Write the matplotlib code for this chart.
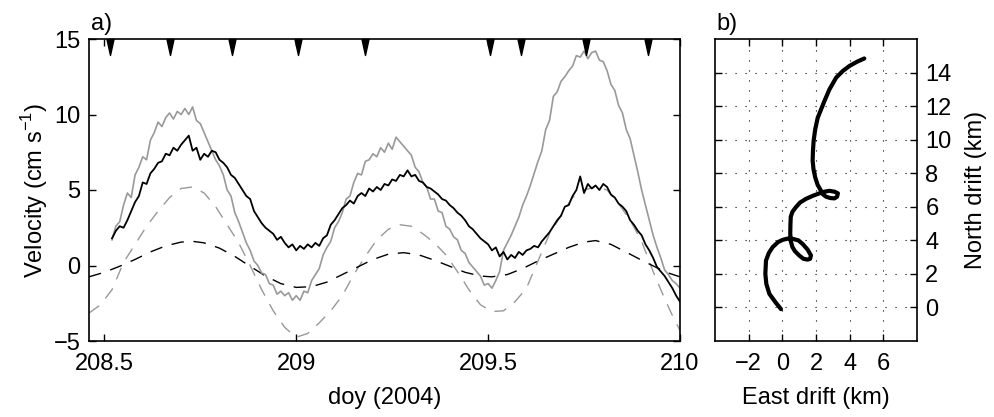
import numpy as np
import matplotlib
matplotlib.use('Agg')
import matplotlib.pyplot as plt

plt.rcParams['font.family'] = ['Liberation Sans', 'DejaVu Sans']

# --- a) velocity time series (doy, cm/s) ---
doy_obs = [208.52, 208.53, 208.54, 208.55, 208.56, 208.57, 208.58, 208.59, 208.60, 208.61,
           208.62, 208.63, 208.64, 208.65, 208.66, 208.67, 208.68, 208.69, 208.70, 208.71,
           208.72, 208.73, 208.74, 208.75, 208.76, 208.77, 208.78, 208.79, 208.80, 208.81,
           208.82, 208.83, 208.84, 208.85, 208.86, 208.87, 208.88, 208.89, 208.90, 208.91,
           208.92, 208.93, 208.94, 208.95, 208.96, 208.97, 208.98, 208.99, 209.00, 209.01,
           209.02, 209.03, 209.04, 209.05, 209.06, 209.07, 209.08, 209.09, 209.10, 209.11,
           209.12, 209.13, 209.14, 209.15, 209.16, 209.17, 209.18, 209.19, 209.20, 209.21,
           209.22, 209.23, 209.24, 209.25, 209.26, 209.27, 209.28, 209.29, 209.30, 209.31,
           209.32, 209.33, 209.34, 209.35, 209.36, 209.37, 209.38, 209.39, 209.40, 209.41,
           209.42, 209.43, 209.44, 209.45, 209.46, 209.47, 209.48, 209.49, 209.50, 209.51,
           209.52, 209.53, 209.54, 209.55, 209.56, 209.57, 209.58, 209.59, 209.60, 209.61,
           209.62, 209.63, 209.64, 209.65, 209.66, 209.67, 209.68, 209.69, 209.70, 209.71,
           209.72, 209.73, 209.74, 209.75, 209.76, 209.77, 209.78, 209.79, 209.80, 209.81,
           209.82, 209.83, 209.84, 209.85, 209.86, 209.87, 209.88, 209.89, 209.90, 209.91,
           209.92, 209.93, 209.94, 209.95, 209.96, 209.97, 209.98, 209.99, 210.00]

speed_gray = [1.7, 2.6, 2.9, 4.0, 4.8, 4.5, 6.0, 6.5, 7.2, 7.0,
              8.3, 8.8, 9.5, 9.2, 9.8, 10.1, 9.7, 10.2, 10.0, 10.4,
              10.0, 10.5, 9.6, 9.4, 8.8, 8.2, 7.6, 7.0, 6.6, 6.0,
              5.0, 4.6, 3.5, 2.9, 2.2, 1.5, 1.0, 0.3, 0.0, -0.5,
              -0.6, -1.2, -1.3, -1.9, -1.7, -2.0, -1.8, -2.3, -2.0, -2.3,
              -1.7, -1.8, -1.0, -0.6, -0.2, 0.7, 1.2, 1.6, 2.5, 2.9,
              3.5, 4.4, 4.6, 5.5, 6.1, 6.0, 6.9, 7.0, 7.4, 7.2,
              7.8, 7.5, 8.1, 7.7, 8.5, 8.2, 7.9, 7.6, 7.3, 6.5,
              6.2, 5.5, 5.2, 4.4, 4.4, 3.6, 3.5, 2.6, 2.4, 1.9,
              1.7, 1.0, 0.8, 0.2, -0.1, -0.4, -0.7, -1.3, -1.2, -1.5,
              -1.0, -0.4, 1.0, 1.5, 2.0, 2.6, 3.2, 4.0, 4.6, 5.3,
              6.1, 6.9, 7.6, 9.0, 9.6, 11.2, 11.5, 12.2, 12.5, 12.9,
              13.2, 13.9, 13.8, 14.2, 13.7, 14.1, 14.2, 13.6, 13.5, 12.9,
              12.0, 11.6, 10.6, 10.1, 9.0, 8.4, 7.3, 6.2, 5.0, 4.0,
              3.0, 2.0, 1.2, 0.5, -0.3, -0.6, -1.0, -1.2, -1.5]

speed_black = [1.8, 2.3, 2.6, 2.5, 3.0, 3.6, 4.2, 4.6, 5.5, 5.4,
               6.1, 6.4, 6.8, 6.9, 7.4, 7.3, 7.8, 7.6, 8.0, 8.3,
               8.6, 7.6, 7.8, 7.0, 7.4, 7.2, 7.6, 7.5, 7.0, 6.8,
               6.5, 6.0, 5.8, 5.4, 5.0, 4.6, 4.4, 3.6, 3.2, 2.8,
               2.5, 2.3, 2.1, 1.7, 1.9, 1.5, 1.2, 1.4, 1.0, 1.3,
               1.1, 1.4, 1.2, 1.5, 1.3, 1.8, 2.0, 2.7, 3.0, 3.4,
               3.8, 4.0, 4.3, 4.1, 4.6, 4.8, 4.6, 5.1, 4.9, 5.2,
               5.0, 5.4, 5.3, 5.7, 5.6, 6.0, 5.9, 6.3, 5.9, 6.0,
               5.6, 5.5, 5.2, 5.1, 4.9, 4.7, 4.4, 4.3, 4.0, 3.8,
               3.5, 3.3, 3.0, 2.6, 2.4, 2.1, 1.8, 1.6, 1.4, 1.0,
               1.2, 0.6, 0.9, 0.4, 0.7, 0.5, 0.9, 0.7, 1.0, 1.1,
               1.3, 1.2, 1.6, 1.9, 2.2, 2.6, 3.0, 3.3, 3.9, 4.0,
               4.6, 5.0, 5.9, 4.8, 5.4, 5.1, 5.3, 5.0, 5.4, 5.2,
               4.7, 4.5, 4.1, 3.9, 3.6, 3.0, 2.7, 2.3, 2.0, 1.4,
               1.0, 0.5, -0.1, -0.4, -0.7, -1.1, -1.5, -2.0, -2.4]

doy_fit_gray = [208.46, 208.49, 208.52, 208.55, 208.58, 208.61, 208.64, 208.67, 208.70, 208.73,
                208.76, 208.79, 208.82, 208.85, 208.88, 208.91, 208.94, 208.97, 209.00, 209.03,
                209.06, 209.09, 209.12, 209.15, 209.18, 209.21, 209.24, 209.27, 209.30, 209.33,
                209.36, 209.39, 209.42, 209.45, 209.48, 209.51, 209.54, 209.57, 209.60, 209.63,
                209.66, 209.69, 209.72, 209.75, 209.78, 209.81, 209.84, 209.87, 209.90, 209.93,
                209.96, 209.98, 210.00]
fit_gray = [-3.15, -2.6, -1.6, 0.2, 1.4, 2.6, 3.6, 4.5, 5.1, 5.2,
            4.8, 3.9, 2.7, 1.5, 0.0, -1.6, -3.0, -4.1, -4.75, -4.5,
            -3.8, -3.0, -2.0, -0.6, 0.6, 1.7, 2.4, 2.7, 2.6, 2.1,
            1.5, 0.7, -0.4, -1.6, -2.6, -3.05, -3.0, -2.4, -1.5, 0.3,
            2.1, 3.3, 4.5, 5.0, 5.2, 5.0, 4.1, 3.0, 1.6, -0.4,
            -2.2, -3.3, -4.3]

doy_fit_black = [208.46, 208.50, 208.54, 208.58, 208.62, 208.66, 208.70, 208.73, 208.76, 208.80,
                 208.84, 208.88, 208.92, 208.96, 209.00, 209.04, 209.08, 209.12, 209.16, 209.20,
                 209.24, 209.28, 209.32, 209.36, 209.40, 209.44, 209.48, 209.51, 209.55, 209.59,
                 209.63, 209.67, 209.71, 209.75, 209.78, 209.82, 209.87, 209.90, 209.94, 209.97,
                 210.00]
fit_black = [-0.75, -0.45, -0.05, 0.4, 0.9, 1.3, 1.55, 1.6, 1.5, 1.15,
             0.6, -0.05, -0.7, -1.2, -1.45, -1.4, -1.1, -0.6, -0.1, 0.4,
             0.75, 0.85, 0.7, 0.35, -0.05, -0.45, -0.7, -0.75, -0.6, -0.2,
             0.3, 0.75, 1.2, 1.55, 1.65, 1.4, 0.75, 0.35, -0.15, -0.5,
             -0.75]

# sampling times (triangles at top)
doy_samples = [208.516, 208.670, 208.833, 209.005, 209.180, 209.504, 209.586, 209.756, 209.917]

# --- b) progressive vector diagram (km) ---
east_km = [-0.08, -0.4, -0.77, -0.95, -1.01, -0.97, -0.8, -0.57, -0.25, 0.02,
           0.3, 0.61, 0.95, 1.2, 1.5, 1.7, 1.65, 1.5, 1.25, 1.0,
           0.75, 0.6, 0.5, 0.47, 0.48, 0.5, 0.6, 0.8, 1.05, 1.4,
           1.8, 2.2, 2.5, 2.8, 3.1, 3.3, 3.25, 3.1, 2.85, 2.6,
           2.4, 2.3, 2.1, 1.95, 1.85, 1.8, 1.82, 1.86, 1.95, 2.1,
           2.3, 2.5, 2.8, 3.2, 3.6, 4.0, 4.45, 4.87]
north_km = [-0.1, 0.3, 0.81, 1.4, 2.0, 2.8, 3.25, 3.6, 3.9, 4.03,
            4.1, 4.09, 4.0, 3.79, 3.45, 3.1, 2.9, 2.85, 2.9, 3.1,
            3.35, 3.6, 3.95, 4.4, 4.9, 5.4, 5.7, 5.97, 6.25, 6.47,
            6.65, 6.8, 6.9, 6.95, 6.9, 6.8, 6.6, 6.5, 6.52, 6.6,
            6.75, 6.95, 7.3, 7.76, 8.25, 8.75, 9.35, 9.94, 10.6, 11.3,
            11.8, 12.3, 13.0, 13.7, 14.1, 14.4, 14.65, 14.84]

fs = 17
W, H = 995, 417
fig = plt.figure(figsize=(W / 100, H / 100), dpi=100)

ax1 = fig.add_axes([89 / W, 1 - 341 / H, 591 / W, 302 / H])
ax2 = fig.add_axes([715 / W, 1 - 341 / H, 202 / W, 302 / H])

gray = '#999999'
ax1.plot(doy_fit_gray, fit_gray, color=gray, lw=1.0, dashes=(9, 7))
ax1.plot(doy_fit_black, fit_black, color='k', lw=1.0, dashes=(9, 7))
ax1.plot(doy_obs, speed_gray, color=gray, lw=1.2)
ax1.plot(doy_obs, speed_black, color='k', lw=1.3)

tri = matplotlib.path.Path([(-0.22, 0), (0.22, 0), (0, -1), (-0.22, 0)])
ax1.plot(doy_samples, [15] * len(doy_samples), ls='none', marker=tri,
         ms=23, color='k', mec='k', clip_on=False)

ax1.set_xlim(208.46, 210)
ax1.set_ylim(-5, 15)
ax1.set_xticks([208.5, 209, 209.5, 210])
ax1.set_xticklabels(['208.5', '209', '209.5', '210'])
ax1.set_yticks([-5, 0, 5, 10, 15])
ax1.set_yticklabels(['\u22125', '0', '5', '10', '15'])
ax1.set_xlabel('doy (2004)', fontsize=fs, labelpad=8)
ax1.set_ylabel('Velocity (cm s$^{\\mathregular{-1}}$)', fontsize=fs, labelpad=3)

ax2.plot(east_km, north_km, color='k', lw=3.0, solid_capstyle='round')
ax2.set_xlim(-4, 8)
ax2.set_ylim(-2, 16)
ax2.set_xticks([-2, 0, 2, 4, 6])
ax2.set_xticklabels(['\u22122', '0', '2', '4', '6'])
ax2.set_yticks([0, 2, 4, 6, 8, 10, 12, 14])
ax2.yaxis.tick_right()
ax2.yaxis.set_label_position('right')
ax2.grid(True, color='k', lw=0.8, ls=(0, (1, 8)))
ax2.set_xlabel('East drift (km)', fontsize=fs, labelpad=8)
ax2.set_ylabel('North drift (km)', fontsize=fs, labelpad=10)

for ax in (ax1, ax2):
    ax.tick_params(direction='in', length=5, width=1, labelsize=fs,
                   top=True, bottom=True, left=True, right=True, pad=6)
    ax.tick_params(axis='x', pad=9)
    for sp in ax.spines.values():
        sp.set_linewidth(1.2)
ax2.tick_params(labelleft=False, labelright=True)

fig.text(91 / W, 1 - 30 / H, 'a)', fontsize=fs, va='baseline')
fig.text(716 / W, 1 - 30 / H, 'b)', fontsize=fs, va='baseline')

fig.savefig('out.png', dpi=100)
